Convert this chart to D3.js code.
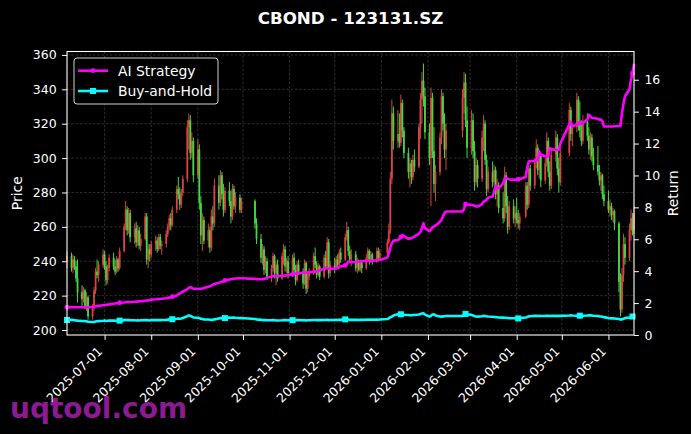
<!DOCTYPE html>
<html>
<head>
<meta charset="utf-8">
<script src="https://cdn.jsdelivr.net/npm/d3@7"></script>
<style>
body{margin:0;background:#000;}
svg{display:block;font-family:"DejaVu Sans",sans-serif;}
</style>
</head>
<body>
<div id="chart"></div>
<script>
var chartTitle = "CBOND - 123131.SZ";
var firstDay = "2025-06-06", lastDay = "2026-06-18";
//exchange closed on these weekdays
var holidays = ["2025-10-01","2025-10-02","2025-10-03","2025-10-06","2025-10-07","2025-10-08",
  "2026-01-01","2026-01-02","2026-02-16","2026-02-17","2026-02-18","2026-02-19","2026-02-20","2026-02-23",
  "2026-04-06","2026-05-01","2026-05-04","2026-05-05"];
var priceTicks = [200,220,240,260,280,300,320,340,360];
var returnTicks = [0,2,4,6,8,10,12,14,16];
var monthTicks = ["2025-07-01","2025-08-01","2025-09-01","2025-10-01","2025-11-01","2025-12-01",
  "2026-01-01","2026-02-01","2026-03-01","2026-04-01","2026-05-01","2026-06-01"];
var seriesNames = ["AI Strategy", "Buy-and-Hold"];

//open, high, low, close per trading day
var ohlc = [
  //2025-06
  [240,246,236,243],[243,245,234,236],[236,244,233,241],[241,243,235,237],[237,240,228,230],[230,241,216,222],[222,226,214,218],[218,225,216,223],[223,224,212,214],[214,222,211,219],[219,220,206,208],[208,215,206,213],[213,225,211,223],[223,236,221,234],[234,241,230,232],[232,240,228,238],[238,247,236,244],
  //2025-07
  [244,246,235,237],[237,240,226,229],[229,238,227,236],[236,244,234,242],[242,245,235,237],[237,241,232,234],[234,243,233,241],[241,242,234,236],[236,248,235,246],[246,262,245,260],[260,275,258,270],[270,272,255,258],[258,271,256,268],[268,270,251,254],[254,262,250,259],[259,263,248,251],[251,261,249,258],[258,260,247,249],[249,256,246,253],[253,268,252,266],[266,268,238,241],[241,250,236,247],[247,250,240,244],
  //2025-08
  [244,252,242,250],[250,255,246,252],[252,254,245,247],[247,256,246,254],[254,256,247,249],[249,252,244,250],[250,258,248,256],[256,262,254,260],[260,267,258,265],[265,268,258,261],[261,272,260,270],[270,284,268,282],[282,289,276,279],[279,283,270,273],[273,282,271,280],[280,290,278,288],[288,322,286,318],[318,326,305,322],[322,325,299,303],[303,315,300,310],[310,312,286,290],
  //2025-09
  [290,311,288,305],[305,308,270,274],[274,278,250,255],[255,268,246,264],[264,266,250,252],[252,262,248,258],[258,260,245,248],[248,270,246,266],[266,272,258,262],[262,288,260,284],[284,290,270,274],[274,293,272,290],[290,292,276,279],[279,285,266,270],[270,283,268,281],[281,286,272,275],[275,281,262,266],[266,285,264,282],[282,284,270,272],[272,280,268,277],[277,279,268,270],[270,277,268,275],
  //2025-10
  [275,276,259,262],[262,265,250,253],[253,256,239,242],[242,250,238,247],[247,249,232,235],[235,243,233,240],[240,242,229,231],[231,238,228,236],[236,245,234,243],[243,244,230,233],[233,240,226,238],[238,241,228,230],[230,245,229,243],[243,250,238,247],[247,249,234,237],[237,242,233,240],[240,243,230,233],
  //2025-11
  [233,244,231,242],[242,245,233,235],[235,238,226,229],[229,240,228,238],[238,241,232,234],[234,236,224,227],[227,241,226,239],[239,240,221,224],[224,233,222,231],[231,236,229,234],[234,245,232,243],[243,248,236,238],[238,240,230,232],[232,239,231,237],[237,238,229,231],[231,244,230,242],[242,246,235,237],[237,254,236,251],[251,253,230,233],[233,240,231,238],
  //2025-12
  [238,242,233,236],[236,243,235,241],[241,244,236,238],[238,247,237,245],[245,248,239,241],[241,256,240,254],[254,263,252,258],[258,260,243,246],[246,249,239,241],[241,247,237,244],[244,246,234,236],[236,242,233,240],[240,241,234,235],[235,241,234,239],[239,240,233,236],[236,244,235,242],[242,248,240,246],[246,247,238,240],[240,246,239,244],[244,245,238,240],[240,248,239,246],[246,248,240,242],[242,247,241,245],
  //2026-01
  [245,253,243,251],[251,262,250,258],[258,292,256,288],[288,334,285,326],[326,330,305,310],[310,328,306,314],[314,326,306,309],[309,337,307,332],[332,334,312,316],[316,318,300,303],[303,306,288,292],[292,300,283,297],[297,299,285,289],[289,302,287,299],[299,305,292,295],[295,320,294,318],[318,338,311,334],[334,350,320,345],[345,355,330,336],[336,341,311,315],
  //2026-02
  [315,320,296,300],[300,341,272,335],[335,338,300,304],[304,318,280,285],[285,296,275,292],[292,315,290,312],[312,340,308,336],[336,338,316,320],[320,326,300,305],[305,320,293,316],[316,340,312,335],[335,350,326,344],[344,349,318,322],[322,330,300,306],
  //2026-03
  [306,328,302,322],[322,326,300,304],[304,310,281,286],[286,300,284,296],[296,299,283,288],[288,316,286,312],[312,325,304,320],[320,322,296,299],[299,302,278,282],[282,295,280,292],[292,298,283,286],[286,296,284,293],[293,295,276,279],[279,288,272,284],[284,286,268,271],[271,280,262,265],[265,295,263,290],[290,292,268,272],[272,278,256,260],[260,275,258,272],[272,276,262,265],[265,272,260,268],
  //2026-04
  [268,277,262,264],[264,270,259,262],[262,268,258,266],[266,286,265,284],[284,286,270,273],[273,297,271,294],[294,296,281,284],[284,300,282,298],[298,311,294,306],[306,308,290,293],[293,305,288,301],[301,303,283,287],[287,300,285,297],[297,315,295,310],[310,312,289,292],[292,298,281,284],[284,305,282,302],[302,316,298,312],[312,314,290,294],[294,300,280,286],[286,306,284,303],
  //2026-05
  [303,332,301,328],[328,330,310,314],[314,320,307,318],[318,338,315,334],[334,336,316,320],[320,333,312,316],[316,322,307,310],[310,325,308,321],[321,326,310,313],[313,318,302,305],[305,315,299,312],[312,314,298,301],[301,306,293,296],[296,307,290,292],[292,296,284,287],[287,292,281,290],[290,291,276,279],[279,284,272,275],
  //2026-06
  [275,281,268,270],[270,276,266,272],[272,274,264,267],[267,271,263,269],[269,270,258,262],[262,263,222,228],[228,233,208,212],[212,236,210,232],[232,256,228,250],[250,254,238,242],[242,262,240,258],[258,270,252,265],[265,268,255,258],[258,272,256,268]
];

var aiReturn = [
  1.74,1.74,1.74,1.74,1.74,1.74,1.74,1.74,1.74,1.74,1.74,1.75,1.77,1.79,1.81,1.83,1.87,
  1.88,1.89,1.9,1.92,1.96,1.97,1.99,2.0,2.02,2.04,2.05,2.06,2.06,2.07,2.08,2.09,2.1,2.11,2.12,2.15,2.16,2.17,2.18,
  2.22,2.24,2.25,2.26,2.26,2.27,2.3,2.32,2.35,2.36,2.4,2.48,2.55,2.6,2.66,2.72,2.88,2.95,3.0,2.96,2.9,
  2.9,2.9,2.9,2.92,2.95,3.02,3.05,3.1,3.15,3.2,3.28,3.3,3.33,3.38,3.42,3.48,3.5,3.52,3.53,3.54,3.56,3.56,
  3.52,3.5,3.49,3.49,3.5,3.55,3.6,3.65,3.68,3.7,3.7,3.7,3.7,3.71,3.72,3.74,3.76,
  3.8,3.83,3.85,3.87,3.88,3.9,3.9,3.91,3.92,3.94,3.96,3.97,3.98,4.0,4.05,4.16,4.18,4.2,4.16,4.15,
  4.16,4.18,4.2,4.25,4.3,4.36,4.45,4.6,4.58,4.56,4.58,4.6,4.6,4.61,4.62,4.64,4.66,4.65,4.66,4.67,4.68,4.7,4.7,
  4.85,5.1,5.5,5.75,5.9,5.96,6.0,6.15,6.27,6.2,6.02,6.05,6.08,6.12,6.17,6.35,6.45,6.7,7.0,6.7,
  6.5,6.6,6.75,6.8,6.85,7.1,7.2,7.45,7.65,7.74,7.74,7.9,8.2,8.16,
  8.16,8.14,8.1,8.06,8.05,8.2,8.36,8.4,8.5,8.6,8.68,9.0,9.35,9.25,9.2,9.5,9.8,9.85,9.8,9.75,9.74,9.74,
  9.74,9.75,9.78,9.9,10.5,10.87,10.9,10.92,10.95,10.97,11.5,11.3,11.2,11.19,11.2,11.71,11.65,11.6,11.6,11.62,12.0,
  13.2,13.38,13.07,13.2,13.25,13.28,13.28,13.3,13.5,13.8,13.7,13.62,13.6,13.55,13.5,13.5,13.4,13.07,
  13.07,13.07,13.07,13.07,13.08,13.1,13.1,13.9,14.5,14.95,15.4,16.0,16.4,17.0
];

var bhReturn = [
  0.94,0.95,0.94,0.93,0.91,0.9,0.88,0.88,0.87,0.86,0.83,0.81,0.82,0.84,0.86,0.87,0.89,
  0.9,0.88,0.89,0.9,0.9,0.89,0.9,0.89,0.9,0.93,0.95,0.93,0.94,0.93,0.92,0.91,0.92,0.91,0.92,0.94,0.93,0.92,0.91,
  0.93,0.94,0.93,0.94,0.93,0.94,0.95,0.96,0.98,0.97,0.99,1.02,1.04,1.02,1.04,1.07,1.18,1.23,1.2,1.15,1.1,
  1.08,1.06,1.02,1.0,0.98,0.97,0.96,0.95,0.96,0.98,1.04,1.06,1.07,1.05,1.06,1.1,1.08,1.1,1.09,1.08,1.06,1.07,
  1.0,0.98,0.95,0.94,0.93,0.93,0.92,0.92,0.93,0.92,0.91,0.91,0.92,0.93,0.93,0.92,0.92,
  0.93,0.93,0.92,0.93,0.93,0.92,0.93,0.91,0.92,0.92,0.94,0.94,0.93,0.93,0.93,0.94,0.94,0.95,0.93,0.94,
  0.94,0.95,0.94,0.96,0.95,0.98,1.0,0.97,0.95,0.96,0.95,0.95,0.94,0.95,0.95,0.96,0.97,0.96,0.97,0.96,0.97,0.96,0.97,
  1.0,1.05,1.1,1.15,1.22,1.3,1.28,1.3,1.29,1.27,1.25,1.24,1.24,1.25,1.25,1.29,1.32,1.35,1.36,1.28,
  1.15,1.2,1.28,1.3,1.22,1.16,1.15,1.17,1.18,1.19,1.2,1.27,1.32,1.3,
  1.26,1.22,1.18,1.16,1.15,1.18,1.2,1.19,1.17,1.16,1.14,1.13,1.12,1.11,1.1,1.09,1.08,1.08,1.07,1.06,1.05,1.05,
  1.04,1.04,1.05,1.1,1.13,1.17,1.18,1.2,1.2,1.19,1.2,1.19,1.2,1.21,1.2,1.19,1.2,1.2,1.19,1.2,1.2,
  1.22,1.23,1.22,1.21,1.22,1.21,1.2,1.21,1.22,1.24,1.23,1.22,1.21,1.19,1.17,1.16,1.14,1.12,
  1.06,1.05,1.04,1.04,1.03,1.0,0.97,0.98,1.02,1.06,1.1,1.13,1.16,1.19
];

var W = 691, H = 434;
var plotL = 67, plotR = 634, plotT = 51.5, plotB = 335;
var upColor = "#ff4f4f", downColor = "#4fff4f";
var aiColor = "#ff00ff", bhColor = "#00ffff";
var markEvery = 25;

var parseDay = d3.utcParse("%Y-%m-%d");
var fmtDay = d3.utcFormat("%Y-%m-%d");

var svg, xScale, yPrice, yReturn, days;

function initialize(){
  days = tradingDays();
  svg = d3.select("#chart").append("svg")
    .attr("width", W)
    .attr("height", H);

  svg.append("rect").attr("width", W).attr("height", H).attr("fill", "#000");

  xScale = d3.scaleUtc()
    .domain([parseDay(firstDay), parseDay(lastDay)])
    .range([plotL, plotR]);
  yPrice = d3.scaleLinear().domain([197.1, 362]).range([plotB, plotT]);
  yReturn = d3.scaleLinear().domain([0, 17.77]).range([plotB, plotT]);

  addGrid();
  addCandles();
  addLines();
  addAxes();
  addLegend();
  addTexts();
}

function tradingDays(){
  var off = new Set(holidays);
  return d3.utcDays(parseDay(firstDay), d3.utcDay.offset(parseDay(lastDay), 1))
    .filter(function(d){
      var wd = d.getUTCDay();
      return wd !== 0 && wd !== 6 && !off.has(fmtDay(d));
    });
}

function addGrid(){
  var g = svg.append("g")
    .attr("stroke", "#6a6a6a")
    .attr("stroke-width", 0.6)
    .attr("stroke-dasharray", "2.5,1.8")
    .attr("opacity", 0.75);

  g.selectAll(".hgrid").data(priceTicks).enter().append("line")
    .attr("x1", plotL).attr("x2", plotR)
    .attr("y1", function(d){ return yPrice(d); })
    .attr("y2", function(d){ return yPrice(d); });

  g.selectAll(".vgrid").data(monthTicks).enter().append("line")
    .attr("y1", plotT).attr("y2", plotB)
    .attr("x1", function(d){ return xScale(parseDay(d)); })
    .attr("x2", function(d){ return xScale(parseDay(d)); });
}

function addCandles(){
  var n = Math.min(days.length, ohlc.length);
  var data = [];
  for(var i = 0; i < n; i++){
    data.push({date: days[i], o: ohlc[i][0], h: ohlc[i][1], l: ohlc[i][2], c: ohlc[i][3]});
  }

  var g = svg.append("g").attr("opacity", 0.85);
  var candle = g.selectAll(".candle").data(data).enter().append("g");

  candle.append("line")
    .attr("x1", function(d){ return xScale(d.date); })
    .attr("x2", function(d){ return xScale(d.date); })
    .attr("y1", function(d){ return yPrice(d.h); })
    .attr("y2", function(d){ return yPrice(d.l); })
    .attr("stroke", function(d){ return d.c >= d.o ? upColor : downColor; })
    .attr("stroke-width", 1);

  candle.append("rect")
    .attr("x", function(d){ return xScale(d.date) - 0.9; })
    .attr("width", 1.8)
    .attr("y", function(d){ return yPrice(Math.max(d.o, d.c)); })
    .attr("height", function(d){ return Math.max(0.8, Math.abs(yPrice(d.o) - yPrice(d.c))); })
    .attr("fill", function(d){ return d.c >= d.o ? upColor : downColor; });
}

function addLines(){
  var series = [
    {name: seriesNames[1], values: bhReturn, color: bhColor, marker: "square"},
    {name: seriesNames[0], values: aiReturn, color: aiColor, marker: "circle"}
  ];

  var line = d3.line()
    .x(function(d){ return xScale(d.date); })
    .y(function(d){ return yReturn(d.v); });

  series.forEach(function(s){
    var pts = [];
    var n = Math.min(days.length, s.values.length);
    for(var i = 0; i < n; i++){
      pts.push({date: days[i], v: s.values[i], i: i});
    }

    svg.append("path")
      .datum(pts)
      .attr("d", line)
      .attr("fill", "none")
      .attr("stroke", s.color)
      .attr("stroke-width", 2.6)
      .attr("stroke-linejoin", "round");

    var marks = pts.filter(function(d){ return d.i % markEvery === 0; });
    drawMarkers(svg, marks, s);
  });
}

function drawMarkers(parent, marks, s){
  if(s.marker === "square"){
    parent.selectAll(null).data(marks).enter().append("rect")
      .attr("x", function(d){ return xScale(d.date) - 3; })
      .attr("y", function(d){ return yReturn(d.v) - 3; })
      .attr("width", 6).attr("height", 6)
      .attr("fill", s.color);
  } else {
    parent.selectAll(null).data(marks).enter().append("circle")
      .attr("cx", function(d){ return xScale(d.date); })
      .attr("cy", function(d){ return yReturn(d.v); })
      .attr("r", 2.4)
      .attr("fill", s.color);
  }
}

function addAxes(){
  svg.append("rect")
    .attr("x", plotL).attr("y", plotT)
    .attr("width", plotR - plotL).attr("height", plotB - plotT)
    .attr("fill", "none")
    .attr("stroke", "#fff")
    .attr("stroke-width", 1.1);

  var left = svg.append("g")
    .attr("transform", "translate(" + plotL + ",0)")
    .call(d3.axisLeft(yPrice).tickValues(priceTicks).tickSize(4.9).tickPadding(5.5));

  var right = svg.append("g")
    .attr("transform", "translate(" + plotR + ",0)")
    .call(d3.axisRight(yReturn).tickValues(returnTicks).tickSize(4.9).tickPadding(5.5));

  var bottom = svg.append("g")
    .attr("transform", "translate(0," + plotB + ")")
    .call(d3.axisBottom(xScale)
      .tickValues(monthTicks.map(parseDay))
      .tickFormat(fmtDay)
      .tickSize(4.9));

  [left, right, bottom].forEach(function(ax){
    ax.select(".domain").remove();
    ax.selectAll(".tick line").attr("stroke", "#fff").attr("stroke-width", 1);
    ax.selectAll(".tick text")
      .attr("fill", "#fff")
      .style("font-size", "12.5px")
      .style("font-family", "DejaVu Sans");
  });

  bottom.selectAll(".tick text")
    .attr("text-anchor", "end")
    .attr("x", null).attr("y", null).attr("dy", null)
    .attr("transform", "translate(-2,17) rotate(-45)");
}

function addLegend(){
  var lg = svg.append("g").attr("transform", "translate(74,58)");

  lg.append("rect")
    .attr("width", 144).attr("height", 46)
    .attr("rx", 3)
    .attr("fill", "#000").attr("fill-opacity", 0.8)
    .attr("stroke", "#d0d0d0").attr("stroke-width", 1);

  var items = [
    {name: seriesNames[0], color: aiColor, marker: "circle"},
    {name: seriesNames[1], color: bhColor, marker: "square"}
  ];

  items.forEach(function(it, k){
    var y = 12.7 + k * 20.3;
    lg.append("line")
      .attr("x1", 4).attr("x2", 34)
      .attr("y1", y).attr("y2", y)
      .attr("stroke", it.color).attr("stroke-width", 2.6);
    if(it.marker === "square"){
      lg.append("rect").attr("x", 16).attr("y", y - 3).attr("width", 6).attr("height", 6).attr("fill", it.color);
    } else {
      lg.append("circle").attr("cx", 19).attr("cy", y).attr("r", 2.4).attr("fill", it.color);
    }
    lg.append("text")
      .attr("x", 44).attr("y", y)
      .attr("dy", "0.36em")
      .attr("fill", "#fff")
      .style("font-size", "13.9px")
      .text(it.name);
  });
}

function addTexts(){
  svg.append("text")
    .attr("x", (plotL + plotR) / 2).attr("y", 24)
    .attr("text-anchor", "middle")
    .attr("fill", "#fff")
    .style("font-size", "16.7px")
    .style("font-weight", "bold")
    .text(chartTitle);

  svg.append("text")
    .attr("transform", "translate(22," + (plotT + plotB) / 2 + ") rotate(-90)")
    .attr("text-anchor", "middle")
    .attr("fill", "#fff")
    .style("font-size", "13.9px")
    .text("Price");

  svg.append("text")
    .attr("transform", "translate(678," + (plotT + plotB) / 2 + ") rotate(-90)")
    .attr("text-anchor", "middle")
    .attr("fill", "#fff")
    .style("font-size", "13.9px")
    .text("Return");

  //watermark
  svg.append("text")
    .attr("x", 10).attr("y", 418)
    .attr("fill", "#8c1a92")
    .style("font-size", "28px")
    .style("font-weight", "bold")
    .text("uqtool.com");
}

initialize();
</script>
</body>
</html>
